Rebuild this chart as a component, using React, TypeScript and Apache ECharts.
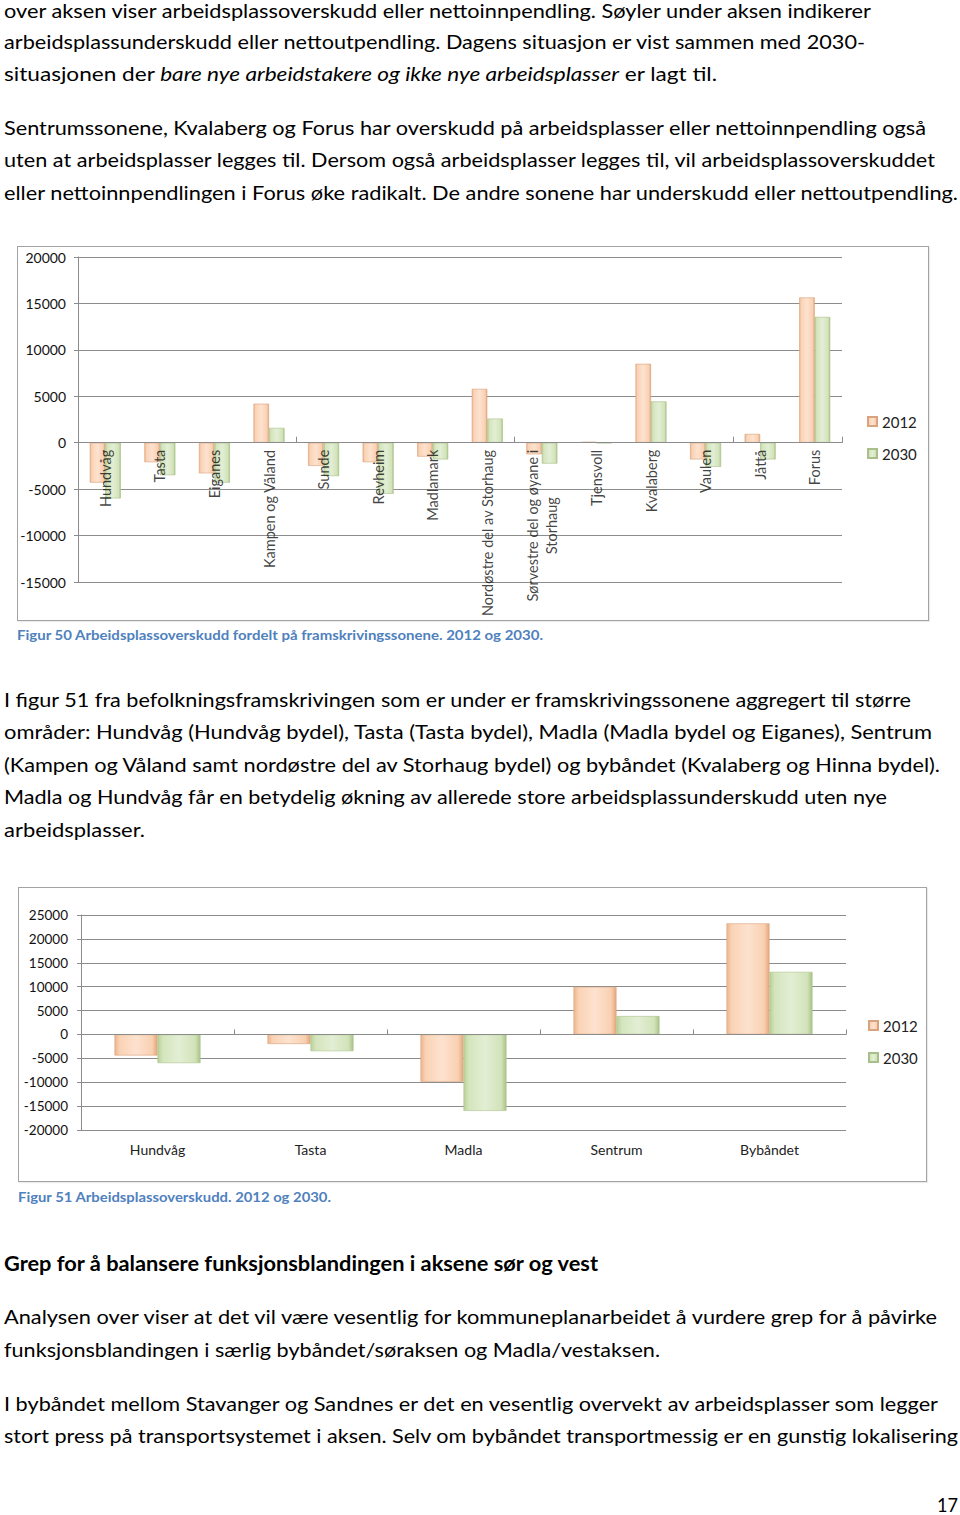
import React, { useEffect, useRef } from 'react';
import * as echarts from 'echarts';

const FONT = 'Lato, "Open Sans", "DejaVu Sans", sans-serif';

// ---------- Figure 50 data ----------
const zones = [
  'Hundvåg', 'Tasta', 'Eiganes', 'Kampen og Våland', 'Sunde', 'Revheim', 'Madlamark',
  'Nordøstre del av Storhaug', 'Sørvestre del og øyane i\nStorhaug', 'Tjensvoll',
  'Kvalaberg', 'Vaulen', 'Jåttå', 'Forus',
];
const zones2012 = [-4300, -2100, -3300, 4200, -2500, -2100, -1500, 5800, -1250, 100, 8500, -1800, 950, 15650];
const zones2030 = [-6000, -3500, -4300, 1600, -3600, -5500, -1800, 2600, -2250, -50, 4450, -2600, -1800, 13550];
const fig50YTicks = [-15000, -10000, -5000, 0, 5000, 10000, 15000, 20000];

// ---------- Figure 51 data ----------
const areas = ['Hundvåg', 'Tasta', 'Madla', 'Sentrum', 'Bybåndet'];
const areas2012 = [-4400, -2000, -9900, 9950, 23250];
const areas2030 = [-6000, -3500, -16000, 3850, 13100];
const fig51YTicks = [-20000, -15000, -10000, -5000, 0, 5000, 10000, 15000, 20000, 25000];

const seriesNames = ['2012', '2030'];

const grad2012 = {
  type: 'linear', x: 0, y: 0, x2: 1, y2: 0,
  colorStops: [
    { offset: 0, color: '#eeb58c' }, { offset: 0.12, color: '#fad3b6' },
    { offset: 0.5, color: '#fde2cf' }, { offset: 0.88, color: '#f9d0b2' },
    { offset: 1, color: '#e5a77c' },
  ],
};
const grad2030 = {
  type: 'linear', x: 0, y: 0, x2: 1, y2: 0,
  colorStops: [
    { offset: 0, color: '#b9d197' }, { offset: 0.12, color: '#d4e5bd' },
    { offset: 0.5, color: '#e3eed4' }, { offset: 0.88, color: '#d2e3ba' },
    { offset: 1, color: '#abc487' },
  ],
};

const GRID_COLOR = '#8c8c8c';

function ticksRange(t: number[]) {
  return { min: t[0], max: t[t.length - 1], interval: t[1] - t[0] };
}

function makeBars(d12: number[], d30: number[], barWidth: number, xAxisIndex = 0) {
  return [
    {
      name: seriesNames[0], type: 'bar', data: d12, barWidth, barGap: '0%', xAxisIndex,
      itemStyle: { color: grad2012, borderColor: '#d9a37e', borderWidth: 0.6 },
    },
    {
      name: seriesNames[1], type: 'bar', data: d30, barWidth, barGap: '0%', xAxisIndex,
      itemStyle: { color: grad2030, borderColor: '#a9bf8a', borderWidth: 0.6 },
    },
  ];
}

const legendBase = {
  orient: 'vertical', itemWidth: 9, itemHeight: 9, itemGap: 17, icon: 'rect',
  textStyle: { fontFamily: FONT, fontSize: 15, color: '#222' },
};

const yAxisBase = (ticks: number[], fontSize: number, margin: number) => ({
  type: 'value', ...ticksRange(ticks),
  axisLine: { show: true, lineStyle: { color: GRID_COLOR } },
  axisTick: { show: true, length: 4, lineStyle: { color: GRID_COLOR } },
  axisLabel: { margin, color: '#111', fontFamily: FONT, fontSize, formatter: (v: number) => String(v) },
  splitLine: { show: true, lineStyle: { color: GRID_COLOR, width: 1 } },
});

// category names placed at the zero line (labels hang down from it)
const zoneLabelSeries = {
  type: 'scatter', name: 'labels', silent: true, z: 20,
  data: zones.map((name) => ({ name, value: 0 })),
  symbolSize: 0,
  label: {
    show: true, position: 'bottom', distance: 7, rotate: 90, align: 'right', verticalAlign: 'middle',
    formatter: (p: any) => String(p.name).split('\n').map((s: string) => `{c|${s}}`).join('\n'),
    rich: { c: { align: 'center', fontFamily: FONT, fontSize: 14.5, color: '#111', lineHeight: 19 } },
  },
};

const option50 = {
  animation: false,
  textStyle: { fontFamily: FONT },
  grid: { left: 60, right: 86, top: 10, bottom: 38, containLabel: false, outerBoundsMode: 'none' },
  legend: { ...legendBase, data: seriesNames, left: 844, top: 162 },
  xAxis: {
    type: 'category', data: zones, z: 10,
    axisLine: { onZero: true, lineStyle: { color: GRID_COLOR } },
    axisTick: { show: true, inside: true, length: 6, lineStyle: { color: GRID_COLOR } },
    axisLabel: { show: false },
  },
  yAxis: yAxisBase(fig50YTicks, 14, 12),
  series: [...makeBars(zones2012, zones2030, 15.5), zoneLabelSeries],
};

const option51 = {
  animation: false,
  textStyle: { fontFamily: FONT },
  grid: { left: 62, right: 80, top: 27, bottom: 51, containLabel: false, outerBoundsMode: 'none' },
  legend: { ...legendBase, data: seriesNames, left: 844, top: 125 },
  xAxis: [
    {
      type: 'category', data: areas, position: 'bottom',
      axisLine: { show: false, onZero: false },
      axisTick: { show: false },
      axisLabel: { margin: 12, color: '#222', fontFamily: FONT, fontSize: 14 },
    },
    {
      type: 'category', data: areas, position: 'bottom', z: 10,
      axisLine: { show: true, onZero: true, lineStyle: { color: GRID_COLOR } },
      axisTick: { show: true, inside: true, length: 5, lineStyle: { color: GRID_COLOR } },
      axisLabel: { show: false },
    },
  ],
  yAxis: yAxisBase(fig51YTicks, 13.5, 13),
  series: makeBars(areas2012, areas2030, 43),
};

function EChart({ option, left, top, width, height }: any) {
  const ref = useRef<HTMLDivElement>(null);
  useEffect(() => {
    if (!ref.current) return;
    const chart = echarts.init(ref.current, undefined, { renderer: 'svg' });
    chart.setOption(option);
    return () => chart.dispose();
  }, [option]);
  return (
    <div
      style={{
        position: 'absolute', left, top, width, height, boxSizing: 'border-box',
        border: '1px solid #a3a3a3', background: '#fff',
        boxShadow: '1px 1px 1px rgba(0,0,0,0.08)',
      }}
    >
      <div ref={ref} style={{ width: '100%', height: '100%' }} />
    </div>
  );
}

type Part = { t: string; i?: boolean };
type Line = { x: number; y: number; w: number; parts: Part[]; size?: number; bold?: boolean; color?: string };

const lines: Line[] = [
  { x: 4, y: 18, w: 867, parts: [{ t: 'over aksen viser arbeidsplassoverskudd eller nettoinnpendling. Søyler under aksen indikerer' }] },
  { x: 4, y: 49, w: 861, parts: [{ t: 'arbeidsplassunderskudd eller nettoutpendling. Dagens situasjon er vist sammen med 2030-' }] },
  {
    x: 4, y: 81, w: 713,
    parts: [
      { t: 'situasjonen der ' },
      { t: 'bare nye arbeidstakere og ikke nye arbeidsplasser', i: true },
      { t: ' er lagt til.' },
    ],
  },
  { x: 4, y: 135, w: 922, parts: [{ t: 'Sentrumssonene, Kvalaberg og Forus har overskudd på arbeidsplasser eller nettoinnpendling også' }] },
  { x: 4, y: 167, w: 931, parts: [{ t: 'uten at arbeidsplasser legges til. Dersom også arbeidsplasser legges til, vil arbeidsplassoverskuddet' }] },
  { x: 4, y: 200, w: 954, parts: [{ t: 'eller nettoinnpendlingen i Forus øke radikalt. De andre sonene har underskudd eller nettoutpendling.' }] },
  { x: 17, y: 640, w: 526, size: 13, bold: true, color: '#4F81BD', parts: [{ t: 'Figur 50 Arbeidsplassoverskudd fordelt på framskrivingssonene. 2012 og 2030.' }] },
  { x: 4, y: 707, w: 907, parts: [{ t: 'I figur 51 fra befolkningsframskrivingen som er under er framskrivingssonene aggregert til større' }] },
  { x: 4, y: 739, w: 928, parts: [{ t: 'områder: Hundvåg (Hundvåg bydel), Tasta (Tasta bydel), Madla (Madla bydel og Eiganes), Sentrum' }] },
  { x: 4, y: 772, w: 936, parts: [{ t: '(Kampen og Våland samt nordøstre del av Storhaug bydel) og bybåndet (Kvalaberg og Hinna bydel).' }] },
  { x: 4, y: 804, w: 883, parts: [{ t: 'Madla og Hundvåg får en betydelig økning av allerede store arbeidsplassunderskudd uten nye' }] },
  { x: 4, y: 837, w: 141, parts: [{ t: 'arbeidsplasser.' }] },
  { x: 18, y: 1202, w: 313, size: 13, bold: true, color: '#4F81BD', parts: [{ t: 'Figur 51 Arbeidsplassoverskudd. 2012 og 2030.' }] },
  { x: 4, y: 1271, w: 594, bold: true, parts: [{ t: 'Grep for å balansere funksjonsblandingen i aksene sør og vest' }] },
  { x: 4, y: 1324, w: 933, parts: [{ t: 'Analysen over viser at det vil være vesentlig for kommuneplanarbeidet å vurdere grep for å påvirke' }] },
  { x: 4, y: 1357, w: 656, parts: [{ t: 'funksjonsblandingen i særlig bybåndet/søraksen og Madla/vestaksen.' }] },
  { x: 4, y: 1411, w: 934, parts: [{ t: 'I bybåndet mellom Stavanger og Sandnes er det en vesentlig overvekt av arbeidsplasser som legger' }] },
  { x: 4, y: 1443, w: 954, parts: [{ t: 'stort press på transportsystemet i aksen. Selv om bybåndet transportmessig er en gunstig lokalisering' }] },
  { x: 937, y: 1512, w: 21, parts: [{ t: '17' }] },
];

export default function App() {
  return (
    <div style={{ position: 'absolute', left: 0, top: 0, width: 960, height: 1515, background: '#fff', overflow: 'hidden' }}>
      <svg width={960} height={1515} style={{ position: 'absolute', left: 0, top: 0 }}>
        {lines.map((l, idx) => (
          <text
            key={idx}
            x={l.x}
            y={l.y}
            textLength={l.w}
            lengthAdjust="spacingAndGlyphs"
            fontFamily={FONT}
            fontSize={l.size ?? 20}
            fontWeight={l.bold ? 'bold' : 'normal'}
            fill={l.color ?? '#000'}
          >
            {l.parts.map((p, j) => (
              <tspan key={j} fontStyle={p.i ? 'italic' : 'normal'}>{p.t}</tspan>
            ))}
          </text>
        ))}
      </svg>
      <EChart option={option50} left={17} top={246} width={912} height={375} />
      <EChart option={option51} left={18} top={887} width={909} height={295} />
    </div>
  );
}
